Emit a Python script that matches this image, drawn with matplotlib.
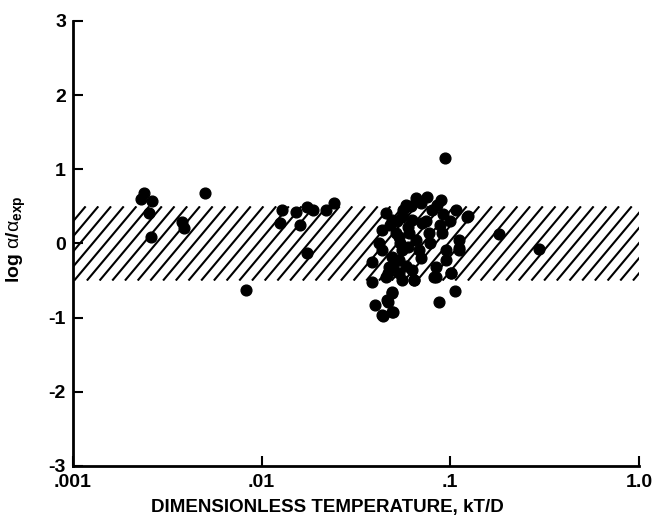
import matplotlib
matplotlib.use('Agg')
import matplotlib.pyplot as plt
import numpy as np
from matplotlib.patches import Rectangle

plt.rcParams['font.family'] = ['Liberation Sans', 'DejaVu Sans']
plt.rcParams['axes.unicode_minus'] = False
plt.rcParams['mathtext.fontset'] = 'custom'
plt.rcParams['mathtext.rm'] = 'Liberation Sans:bold'
plt.rcParams['mathtext.bf'] = 'Liberation Sans:bold'
plt.rcParams['mathtext.it'] = 'Liberation Sans'

# measured points: dimensionless temperature kT/D and log(alpha/alpha_exp)
kT_D = [0.00238, 0.00229, 0.00262, 0.00252, 0.00259, 0.00499, 0.00378, 0.00390,
        0.00822, 0.0129, 0.01245, 0.01513, 0.0173, 0.01862, 0.01589, 0.0173,
        0.02208, 0.02433,
        0.0942, 0.0387, 0.0387, 0.0401, 0.0442, 0.0493, 0.0470, 0.0493,
        0.0875, 0.1062, 0.1012, 0.1816, 0.296, 0.1245, 0.1116, 0.0645,
        0.0843, 0.0537, 0.0537,
        0.0661, 0.0756, 0.0896, 0.0585, 0.0804, 0.1076, 0.1230,
        0.0459, 0.0493, 0.0557, 0.0630, 0.0711,
        0.0436, 0.0518, 0.0607, 0.0774, 0.0907, 0.1116,
        0.0436, 0.0493, 0.0557, 0.0686, 0.0953, 0.1116,
        0.0476, 0.0537, 0.0630, 0.0843, 0.0953,
        0.0459, 0.0557, 0.0645, 0.0823, 0.1012,
        0.0493, 0.0464, 0.0436, 0.0499,
        0.0700, 0.0620, 0.0850, 0.0920, 0.0560, 0.0480, 0.0520, 0.0600,
        0.0660, 0.0740, 0.0500, 0.0540, 0.0600, 0.0420, 0.0470, 0.0580,
        0.0700, 0.0780, 0.0880, 0.1000]
log_ratio = [0.68, 0.60, 0.57, 0.41, 0.09, 0.68, 0.29, 0.21,
             -0.63, 0.45, 0.28, 0.42, 0.49, 0.45, 0.25, -0.13,
             0.45, 0.55,
             1.15, -0.25, -0.52, -0.83, -0.98, -0.92, -0.79, -0.65,
             -0.79, -0.64, -0.40, 0.13, -0.07, 0.37, -0.06, -0.49,
             -0.45, 0.09, -0.22,
             0.61, 0.63, 0.59, 0.52, 0.45, 0.45, 0.36,
             0.41, 0.32, 0.36, 0.32, 0.28,
             0.18, 0.14, 0.14, 0.14, 0.14, 0.05,
             -0.09, -0.18, -0.09, -0.09, -0.09, -0.09,
             -0.32, -0.40, -0.36, -0.32, -0.22,
             -0.45, -0.49, -0.49, -0.45, -0.40,
             -0.67, -0.76, -0.96, -0.92,
             0.55, 0.50, 0.52, 0.40, 0.45, 0.25, 0.30, 0.22,
             0.05, 0.30, -0.30, 0.00, -0.05, 0.00, -0.40, -0.30,
             -0.20, 0.00, 0.25, 0.30]

band_low, band_high = -0.5, 0.5
band_x = [0.001, 1.0]

xticks = [0.001, 0.01, 0.1, 1.0]
xtick_labels = ['.001', '.01', '.1', '1.0']
yticks = [-3, -2, -1, 0, 1, 2, 3]

fig = plt.figure(figsize=(6.57, 5.23), dpi=100)
ax = fig.add_axes([0.111, 0.109, 0.8615, 0.851])
ax.set_xscale('log')
ax.set_xlim(0.001, 1.0)
ax.set_ylim(-3, 3)

# hatched band, lines drawn by hand so the spacing and slope match
band = Rectangle((band_x[0], band_low), band_x[1] - band_x[0], band_high - band_low,
                 facecolor='none', edgecolor='none', transform=ax.transData)
ax.add_patch(band)
fig.canvas.draw()
x0, y0 = ax.transData.transform((band_x[0], band_low))
x1, y1 = ax.transData.transform((band_x[1], band_high))
h = y1 - y0
run = h / np.tan(np.radians(50))
for xs in np.arange(x0 - run, x1 + 13, 12.7):
    ln, = ax.plot([xs, xs + run], [y0, y1], color='black', lw=1.5,
                  transform=None, solid_capstyle='butt')
    ln.set_clip_path(band)

ax.scatter(kT_D, log_ratio, s=60, color='black', zorder=3, clip_on=False)

for side in ['top', 'right']:
    ax.spines[side].set_visible(False)
for side in ['left', 'bottom']:
    ax.spines[side].set_linewidth(2)

ax.set_xticks(xticks)
ax.set_xticklabels(xtick_labels)
ax.xaxis.set_minor_locator(matplotlib.ticker.NullLocator())
ax.set_yticks(yticks)
ax.tick_params(direction='in', length=7, width=1.5, labelsize=14, pad=5)
ax.tick_params(axis='x', pad=6)
for lab in ax.get_xticklabels() + ax.get_yticklabels():
    lab.set_fontweight('bold')

ax.set_xlabel('DIMENSIONLESS TEMPERATURE, kT/D', fontsize=13.5, fontweight='bold')
ax.xaxis.set_label_coords(0.45, -0.075)
ax.set_ylabel(r'log $\alpha/\alpha_{\mathbf{exp}}$', fontsize=14, fontweight='bold')
ax.yaxis.set_label_coords(-0.08, 0.51)

fig.savefig('out.png', dpi=100)
